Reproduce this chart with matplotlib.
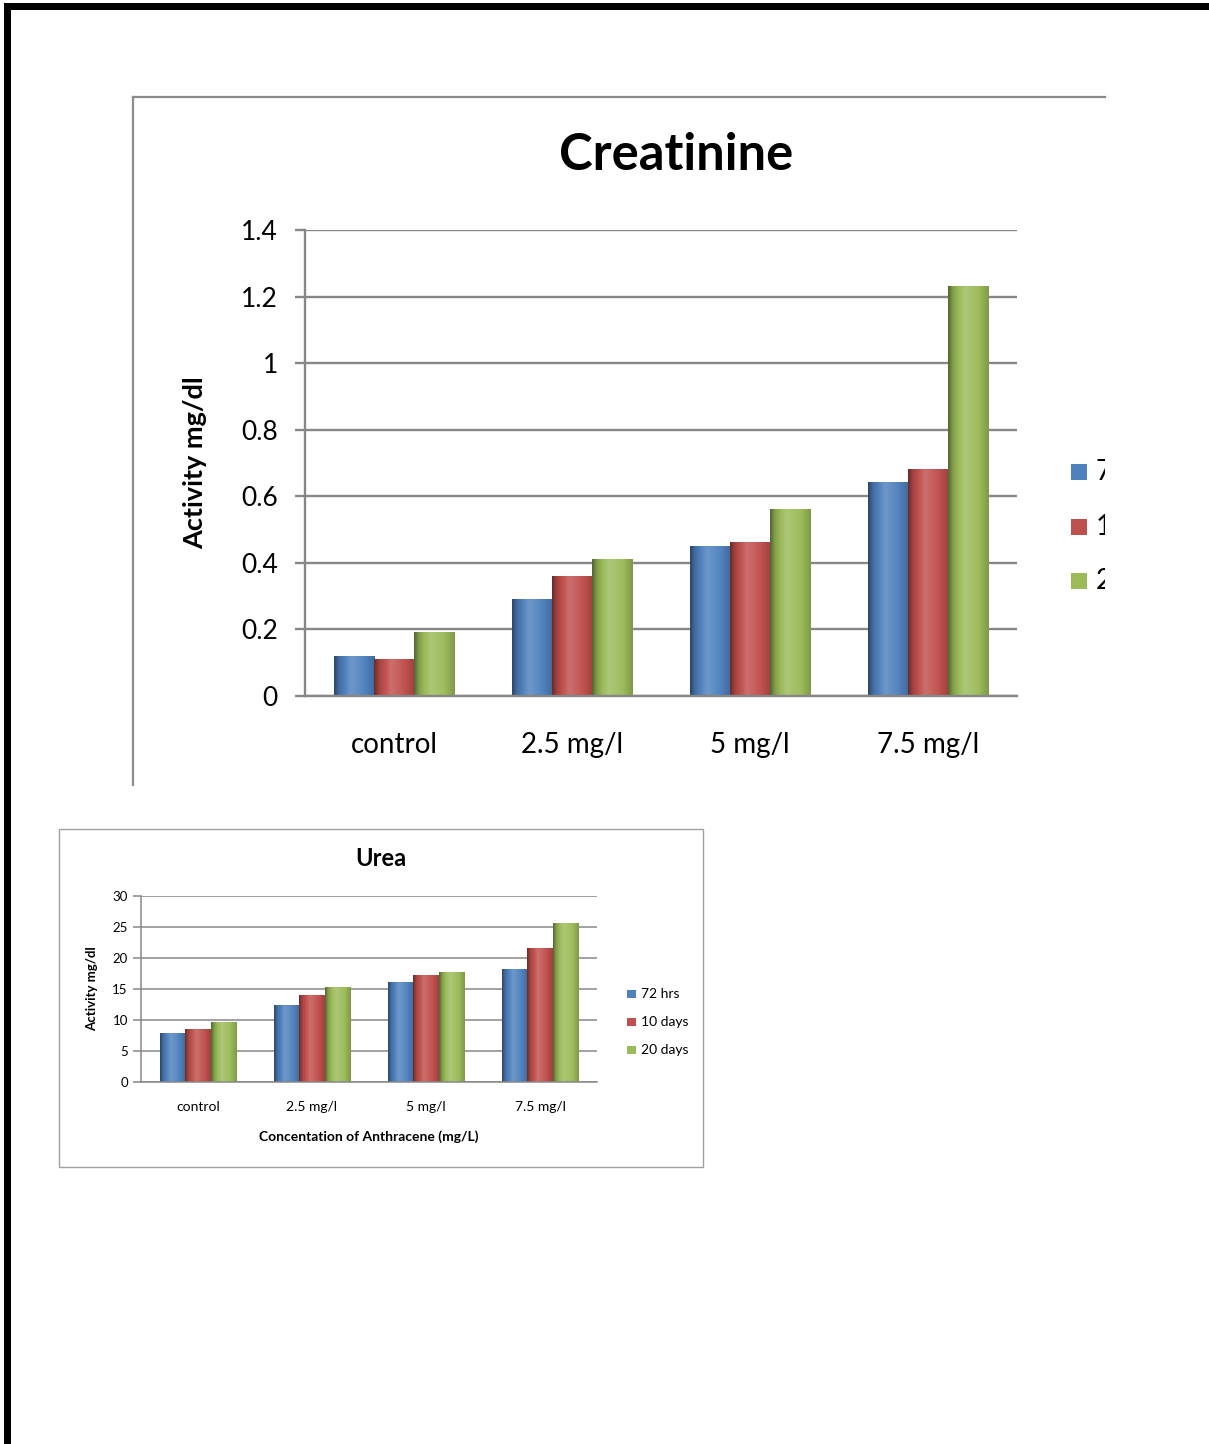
import numpy as np
import matplotlib
matplotlib.use("Agg")
from matplotlib import pyplot as plt
from matplotlib.patches import Rectangle
from matplotlib.lines import Line2D
from matplotlib.transforms import Bbox, TransformedBbox

plt.rcParams['font.family'] = ['Lato', 'DejaVu Sans']

categories = ['control', '2.5 mg/l', '5 mg/l', '7.5 mg/l']
series = ['72 hrs', '10 days', '20 days']
colors = ['#4F81BD', '#C0504D', '#9BBB59']

creat_72h = [0.12, 0.29, 0.45, 0.64]
creat_10d = [0.11, 0.36, 0.46, 0.68]
creat_20d = [0.19, 0.41, 0.56, 1.23]

urea_72h = [7.9, 12.3, 16.1, 18.1]
urea_10d = [8.5, 14.0, 17.1, 21.6]
urea_20d = [9.6, 15.2, 17.7, 25.6]

W, H = 1209, 1444
fig = plt.figure(figsize=(W / 100, H / 100), dpi=100)
grid_col = '#878787'


def fx(x):
    return x / W


def fy(y):
    return 1 - y / H


def ax_at(x0, y0, x1, y1):
    # pixel box (top-left origin) -> axes
    return fig.add_axes([fx(x0), fy(y1), fx(x1 - x0), (y1 - y0) / H])


def cylinder(c):
    # horizontal shading: dark left edge, highlight, darker right edge
    base = np.array(matplotlib.colors.to_rgb(c))
    t = np.linspace(0, 1, 64)
    f = np.interp(t, [0, 0.12, 0.42, 0.75, 1.0], [0.55, 0.85, 1.18, 1.02, 0.82])
    out = np.empty((64, 3))
    for i, v in enumerate(f):
        if v < 1:
            out[i] = base * v
        else:
            out[i] = base + (1 - base) * (v - 1)
    return out[np.newaxis, :, :]


def bar_chart(ax, data, width, ymax, ystep, grid_lw):
    x = np.arange(len(categories))
    offsets = [-width, 0, width]
    for vals, off, c in zip(data, offsets, colors):
        bars = ax.bar(x + off, vals, width, color=c, zorder=2)
        img = cylinder(c)
        for b in bars:
            b.set_visible(False)
            x0, w, h = b.get_x(), b.get_width(), b.get_height()
            ax.imshow(img, extent=[x0, x0 + w, 0, h], aspect='auto', zorder=3,
                      interpolation='bilinear')
    ax.set_xlim(-0.5, len(categories) - 0.5)
    ax.set_ylim(0, ymax)
    ax.set_yticks(np.arange(0, ymax + ystep / 2, ystep))
    ax.set_xticks(x)
    ax.set_xticklabels(categories)
    ax.yaxis.grid(True, color=grid_col, lw=grid_lw, zorder=1)
    ax.set_axisbelow(True)
    for s in ['top', 'right']:
        ax.spines[s].set_visible(False)
    for s in ['left', 'bottom']:
        ax.spines[s].set_color(grid_col)
        ax.spines[s].set_linewidth(grid_lw)
        ax.spines[s].set_zorder(4)
    ax.tick_params(axis='x', length=0)
    ax.tick_params(axis='y', color=grid_col, width=grid_lw)


def legend_entries(x, y0, dy, size, fontsize, clip=None):
    for i, (name, c) in enumerate(zip(series, colors)):
        y = y0 + i * dy
        r = Rectangle((fx(x), fy(y + size / 2)), size / W, size / H,
                      transform=fig.transFigure, facecolor=c, edgecolor='none')
        fig.add_artist(r)
        t = fig.text(fx(x + size + 0.45 * size + 2), fy(y), name, fontsize=fontsize,
                     va='center', ha='left')
        if clip is not None:
            t.set_clip_box(clip)
            t.set_clip_on(True)


# page border
fig.add_artist(Rectangle((fx(4), fy(10)), 1, 7 / H, transform=fig.transFigure,
                         facecolor='black', edgecolor='none'))
fig.add_artist(Rectangle((fx(4), 0), 7 / W, fy(3), transform=fig.transFigure,
                         facecolor='black', edgecolor='none'))

# creatinine chart frame (cut at right and bottom)
fig.add_artist(Line2D([fx(133), fx(1105)], [fy(97), fy(97)], color='#8c8c8c', lw=1.6))
fig.add_artist(Line2D([fx(133), fx(133)], [fy(97), fy(785)], color='#8c8c8c', lw=1.6))

ax1 = ax_at(305, 230, 1017, 696)
bar_chart(ax1, [creat_72h, creat_10d, creat_20d], 0.225, 1.4, 0.2, 1.7)
ax1.set_yticklabels(['0', '0.2', '0.4', '0.6', '0.8', '1', '1.2', '1.4'])
ax1.tick_params(axis='y', length=7.5, pad=12, labelsize=19)
ax1.tick_params(axis='x', pad=26, labelsize=20)
ax1.set_ylabel('Activity mg/dl', fontsize=19.5, fontweight='bold')
ax1.yaxis.set_label_coords(-0.137, 0.5)
fig.text(fx(676), fy(156), 'Creatinine', fontsize=36.5, fontweight='bold',
         ha='center', va='center')

clip = TransformedBbox(Bbox([[0, 0], [fx(1105), 1]]), fig.transFigure)
legend_entries(1071, 472, 54.5, 16, 20, clip=clip)

# urea chart
fig.add_artist(Rectangle((fx(59), fy(1167)), (703 - 59) / W, (1167 - 829) / H,
                         transform=fig.transFigure, facecolor='none',
                         edgecolor='#a0a0a0', lw=1.0))
ax2 = ax_at(141, 896, 597, 1082)
bar_chart(ax2, [urea_72h, urea_10d, urea_20d], 0.222, 30, 5, 1.1)
ax2.tick_params(axis='y', length=5.5, pad=4, labelsize=9.5)
ax2.tick_params(axis='x', pad=14, labelsize=10)
ax2.set_ylabel('Activity mg/dl', fontsize=9.5, fontweight='bold')
ax2.yaxis.set_label_coords(-0.094, 0.5)
ax2.set_xlabel('Concentation of Anthracene (mg/L)', fontsize=10, fontweight='bold',
               labelpad=12)
fig.text(fx(381), fy(859), 'Urea', fontsize=17, fontweight='bold',
         ha='center', va='center')
legend_entries(627, 994, 28, 8.5, 10)

fig.savefig('out.png', dpi=100)
